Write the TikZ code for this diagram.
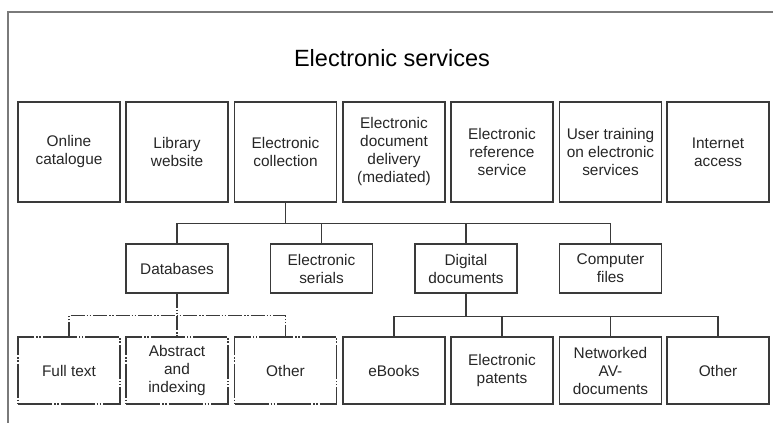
\documentclass[tikz,border=0pt]{standalone}
\usepackage{fontspec}
\setmainfont{Liberation Sans}
\usepackage{xcolor}
\usepackage{tikz}
\usetikzlibrary{shapes.geometric, arrows}

\definecolor{boxline}{HTML}{3A3A3A}
\definecolor{frameline}{HTML}{7A7A7A}

\begin{document}
\begin{tikzpicture}[x=1pt, y=-1pt,
        box/.style={draw=boxline, line width=1.2pt, align=center, text=black!85,
            minimum width=102pt, inner sep=2pt, font=\fontsize{15.4}{18}\selectfont},
        topbox/.style={box, minimum height=100pt},
        midbox/.style={box, minimum height=49pt},
        lowbox/.style={box, minimum height=67pt},
        link/.style={draw=boxline, line width=1.2pt},
        dblink/.style={link, dash pattern=on 14pt off 2pt on 1.5pt off 1.5pt on 1.5pt off 2pt},
        dbbox/.style={lowbox, dash pattern=on 34pt off 2pt on 1.5pt off 1.5pt on 1.5pt off 2pt}]
        \useasboundingbox (0,0) rectangle (773,423);

        % frame
        \draw[frameline, line width=1.4pt] (773,12) -- (8,12) -- (8,423);

        \node (title) at (392,58) {\fontsize{23.5}{27}\selectfont Electronic services};

        % top row
        \node[topbox] (online)   at (69,152)    {Online\\catalogue};
        \node[topbox] (website)  at (177,152)   {Library\\website};
        \node[topbox] (coll)     at (285.5,152) {Electronic\\collection};
        \node[topbox] (delivery) at (394,152)   {Electronic\\document\\delivery\\(mediated)};
        \node[topbox] (refserv)  at (502,152)   {Electronic\\reference\\service};
        \node[topbox] (training) at (610.5,152) {User training\\on electronic\\services};
        \node[topbox] (internet) at (718,152)   {Internet\\access};

        % middle row
        \node[midbox] (db)      at (177,268.5)   {Databases};
        \node[midbox] (serials) at (321.5,268.5) {Electronic\\serials};
        \node[midbox] (digdocs) at (466,268.5)   {Digital\\documents};
        \node[midbox] (files)   at (610.5,268.5) {Computer\\files};

        % bottom row
        \node[dbbox]  (fulltext) at (69,370.5)    {Full text};
        \node[dbbox]  (abstract) at (177,370.5)   {Abstract\\and\\indexing};
        \node[dbbox]  (dbother)  at (285.5,370.5) {Other};
        \node[lowbox] (ebooks)   at (394,370.5)   {eBooks};
        \node[lowbox] (patents)  at (502,370.5)   {Electronic\\patents};
        \node[lowbox] (avdocs)   at (610.5,370.5) {Networked\\AV-\\documents};
        \node[lowbox] (ddother)  at (718,370.5)   {Other};

        % connectors
        \draw[link] (coll.south) -- ++(0,21) -| (db.north);
        \draw[link] (coll.south) -- ++(0,21) -| (serials.north);
        \draw[link] (coll.south) -- ++(0,21) -| (digdocs.north);
        \draw[link] (coll.south) -- ++(0,21) -| (files.north);

        \draw[dblink] (fulltext.north) -- ++(0,-21) -| (dbother.north);
        \draw[dblink] (db.south) -- (abstract.north);

        \draw[link] (digdocs.south) -- ++(0,23) -| (ebooks.north);
        \draw[link] (digdocs.south) -- ++(0,23) -| (patents.north);
        \draw[link] (digdocs.south) -- ++(0,23) -| (avdocs.north);
        \draw[link] (digdocs.south) -- ++(0,23) -| (ddother.north);
    \end{tikzpicture}
\end{document}
